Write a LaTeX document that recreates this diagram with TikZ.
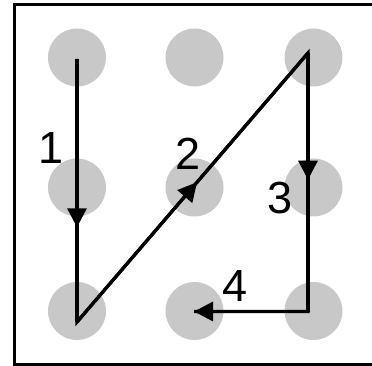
\documentclass[tikz,border=0pt]{standalone}
\usepackage{fontspec}
\setmainfont{Liberation Sans}
\usetikzlibrary{arrows.meta,decorations.markings}
\definecolor{dotgray}{RGB}{200,200,200}
\tikzset{
  dot/.style={circle,fill=dotgray,draw=none,minimum size=58pt,inner sep=0pt},
  lbl/.style={inner sep=0pt,font=\fontsize{45}{45}\selectfont},
  trace/.style={line width=3.2pt,line join=miter,draw=black},
  tip/.style={decoration={markings,mark=at position #1 with {\arrow{Triangle[length=19pt,width=19pt]}}},postaction={decorate}},
  frame/.style={line width=3pt,draw=black}
}
\begin{document}
\begin{tikzpicture}[x=1pt,y=-1pt]
\useasboundingbox (0,0) rectangle (372,366);
% frame (right side lies outside the picture)
\coordinate (ftr) at (372,4.7);
\coordinate (ftl) at (14.3,4.7);
\coordinate (fbl) at (14.3,364.3);
\coordinate (fbr) at (372,364.3);
\draw[frame] (ftr) -- (ftl) -- (fbl) -- (fbr);
% dots
\node[dot] (d11) at (77,57.5) {};
\node[dot] (d12) at (194.5,57.5) {};
\node[dot] (d13) at (313.5,57.5) {};
\node[dot] (d21) at (77,187.5) {};
\node[dot] (d22) at (194.5,187.5) {};
\node[dot] (d23) at (313.5,187.5) {};
\node[dot] (d31) at (77,311) {};
\node[dot] (d32) at (194.5,311) {};
\node[dot] (d33) at (313.5,311) {};
% path vertices
\coordinate (v1) at (77,59);
\coordinate (v2) at (77,322);
\coordinate (v3) at (308,53);
\coordinate (v4) at (308,311.5);
\coordinate (v5) at (194,311.5);
\draw[trace] (v1) -- (v2) -- (v3) -- (v4) -- (v5);
\path[trace,tip=0.64] (v1) -- (v2);
\path[trace,tip=0.52] (v2) -- (v3);
\path[trace,tip=0.49] (v3) -- (v4);
\path[trace,-{Triangle[length=19pt,width=19pt]}] (v4) -- (v5);
% labels
\node[lbl] (l1) at (51,148) {1};
\node[lbl] (l2) at (188,154) {2};
\node[lbl] (l3) at (280,198) {3};
\node[lbl] (l4) at (235,286) {4};
\end{tikzpicture}
\end{document}
